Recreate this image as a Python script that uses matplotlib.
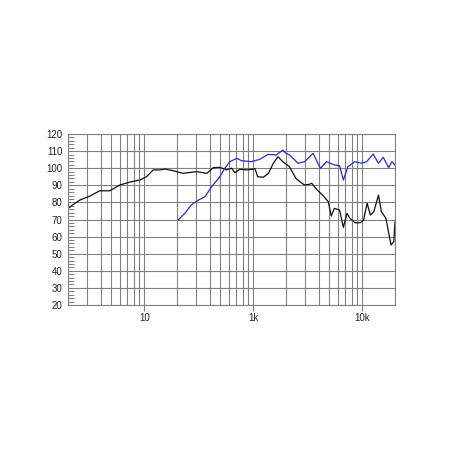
# -*- coding: UTF-8 -*-
import matplotlib
matplotlib.use('Agg')
import matplotlib.pyplot as plt
import matplotlib.ticker as ticker
import numpy as np

# Frequency response, black curve (Hz, dB)
black_freq = [20, 23.2, 25.7, 31.8, 39.1, 48.3, 60, 74, 91.5, 105, 121, 140, 155, 185,
              228, 303, 375, 430, 494, 571, 634, 680, 757, 872, 1040, 1100, 1240, 1380,
              1530, 1690, 1870, 2150, 2470, 2680, 2950, 3280, 3440, 3860, 4330, 4890,
              5200, 5560, 6200, 6720, 7250, 7720, 8620, 9600, 10300, 11100, 11900, 12800,
              14100, 15000, 16500, 18400, 19500, 20000]
black_db = [76.5, 79.5, 81.4, 83.7, 86.8, 86.8, 90.2, 91.9, 93.1, 95, 99, 99, 99.5, 98.5,
            97, 98, 97, 100.3, 100.5, 99, 100, 97.4, 99.4, 99, 99.6, 95, 94.7, 97,
            102.9, 106.7, 103.8, 100.9, 94, 92.1, 90.2, 90.6, 91.2, 87.3, 84.3, 80.4,
            72, 76.5, 75.6, 65.4, 73.6, 70.7, 68.1, 68.1, 69.7, 79.5, 72.6, 74.6,
            84.3, 74.6, 70.7, 55.1, 57, 68.7]

# Blue curve (Hz, dB)
blue_freq = [205, 236, 270, 315, 361, 416, 494, 550, 610, 707, 780, 960, 1150, 1370,
             1630, 1870, 2000, 2160, 2580, 2960, 3540, 4130, 4690, 5570, 6200, 6720,
             7400, 8550, 9840, 11000, 12600, 14100, 15600, 17500, 18700, 20000]
blue_db = [69.7, 73.6, 78.5, 81.4, 83.3, 89.2, 95, 100, 103.8, 105.8, 104.4, 103.8, 105.2,
           108.1, 107.7, 110.6, 108.7, 107.7, 102.9, 103.8, 108.7, 99.9, 103.8, 101.9,
           101.5, 93.1, 100.9, 103.8, 102.9, 103.8, 108.3, 102.9, 106.4, 100.3, 103.8,
           101.9]

x_ticks = [100, 1000, 10000]
x_labels = ['10', '1k', '10k']
y_ticks = list(range(20, 121, 10))

fig = plt.figure(figsize=(4.5, 4.5), dpi=100)
ax = fig.add_axes([68 / 450, 1 - 305 / 450, 327 / 450, 171 / 450])
ax.set_xscale('log')
ax.set_xlim(20, 20000)
ax.set_ylim(20, 120)

# grid lines
grid_col = '#808080'
ax.xaxis.set_major_locator(ticker.FixedLocator(x_ticks))
ax.xaxis.set_major_formatter(ticker.FixedFormatter(x_labels))
ax.xaxis.set_minor_locator(ticker.LogLocator(base=10, subs=np.arange(2, 10), numticks=20))
ax.xaxis.set_minor_formatter(ticker.NullFormatter())
ax.set_yticks(y_ticks)
ax.yaxis.set_minor_locator(ticker.MultipleLocator(2))
ax.grid(True, which='major', axis='both', color=grid_col, linewidth=0.8)
ax.grid(True, which='minor', axis='x', color=grid_col, linewidth=0.8)
ax.set_axisbelow(True)

ax.tick_params(axis='x', which='major', direction='out', length=4, width=0.8,
               color=grid_col, labelsize=7, pad=2, labelcolor='#222222')
ax.tick_params(axis='x', which='minor', length=0)
ax.tick_params(axis='y', which='major', length=0, labelsize=7, pad=4, labelcolor='#222222')
ax.tick_params(axis='y', which='minor', direction='in', length=4, width=0.7, color=grid_col)
for lab in ax.get_xticklabels() + ax.get_yticklabels():
    lab.set_fontfamily('Liberation Sans')
for s in ax.spines.values():
    s.set_color(grid_col)
    s.set_linewidth(0.8)

ax.plot(black_freq, black_db, color='#111111', linewidth=0.9)
ax.plot(blue_freq, blue_db, color='#2b2bd0', linewidth=0.9)

plt.savefig('out.png', dpi=100)
